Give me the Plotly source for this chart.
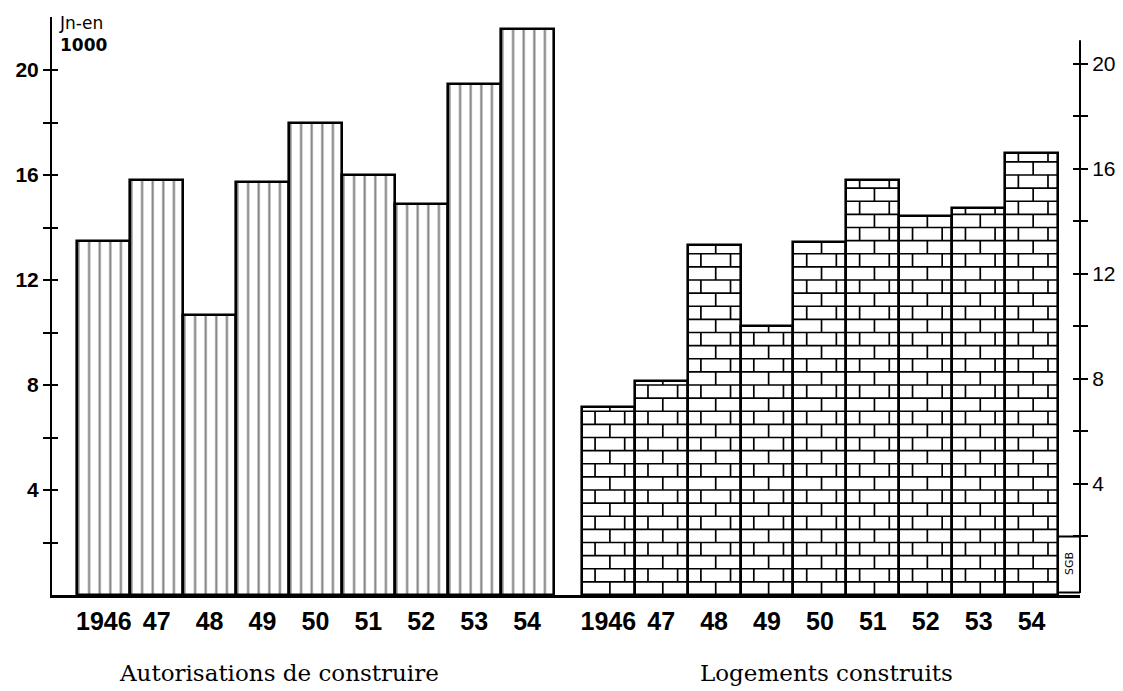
import plotly.graph_objects as go

# ---------------- data ----------------
years_labels = ["1946", "47", "48", "49", "50", "51", "52", "53", "54"]
autorisations = [13.5, 15.8, 10.65, 15.75, 18.0, 16.0, 14.9, 19.45, 21.55]
logements = [7.15, 8.15, 13.35, 10.25, 13.45, 15.8, 14.45, 14.75, 16.85]
y_tick_vals = [2, 4, 6, 8, 10, 12, 14, 16, 18, 20]
y_tick_text = ["", "4", "", "8", "", "12", "", "16", "", "20"]
title_left = "Autorisations de construire"
title_right = "Logements construits"
unit_label = "Jn-en<br><b>1000</b>"
sign_label = "SGB"

# ---------------- geometry helpers ----------------
n = len(years_labels)
group_offset = 9.535
pos_left = [i for i in range(n)]
pos_right = [i + group_offset for i in range(n)]
x_range = [-0.979, 18.45]
y_range = [0, 22.02]
y2_shift = 0.23
y2_range = [y_range[0] - y2_shift, y_range[1] - y2_shift]

# page body has an 8px margin: figure is laid out in page coords minus 8
OFF = 8
W, H = 1123 - OFF, 691 - OFF
ML = 52 - OFF
MT = 17 - OFF
MR = W - (1080 - OFF)
MB = H - (595 - OFF)
plot_w = W - ML - MR
plot_h = H - MT - MB

fig = go.Figure()

# left bars with vertical hatching
fig.add_trace(go.Bar(
    x=pos_left, y=autorisations, width=1.0,
    marker=dict(color="white",
                line=dict(color="black", width=2.6),
                pattern=dict(shape="|", fgcolor="black", bgcolor="white",
                             size=10.6, solidity=0.2)),
    showlegend=False, hoverinfo="skip"))

# right bars (white, brick pattern drawn on top)
fig.add_trace(go.Bar(
    x=pos_right, y=logements, width=1.0,
    marker=dict(color="white", line=dict(color="black", width=2.6)),
    showlegend=False, hoverinfo="skip"))

# brick pattern derived from the data values
row_h = 0.5
bx, by = [], []
for p, v in zip(pos_right, logements):
    xl, xr = p - 0.5, p + 0.5
    k = 1
    while row_h * k < v - 0.05:
        bx += [xl, xr, None]
        by += [row_h * k, row_h * k, None]
        k += 1
    k = 0
    while row_h * k < v:
        y0 = row_h * k
        y1 = min(row_h * (k + 1), v)
        fracs = [0.53] if k % 2 == 0 else [0.25, 0.81]
        for f in fracs:
            bx += [xl + f, xl + f, None]
            by += [y0, y1, None]
        k += 1
fig.add_trace(go.Scatter(x=bx, y=by, mode="lines",
                         line=dict(color="black", width=1.7),
                         showlegend=False, hoverinfo="skip"))

# invisible helpers so the extra axes are drawn
for ax in ["y2", "y3", "y4"]:
    fig.add_trace(go.Scatter(x=[0], y=[1], yaxis=ax, mode="markers",
                             marker=dict(opacity=0), showlegend=False,
                             hoverinfo="skip"))

tick_font = dict(family="Liberation Sans", size=21, color="black", weight="bold")

fig.update_layout(
    width=W, height=H,
    margin=dict(l=ML, r=MR, t=MT, b=MB, autoexpand=False),
    paper_bgcolor="white", plot_bgcolor="white",
    bargap=0,
    xaxis=dict(range=x_range, showgrid=False, zeroline=False,
               showline=True, linecolor="black", linewidth=2.6,
               tickvals=pos_left + pos_right, ticktext=years_labels + years_labels,
               ticks="", ticklabelstandoff=2,
               tickfont=dict(family="Liberation Sans", size=25, color="black", weight="bold")),
    yaxis=dict(range=y_range, showgrid=False, zeroline=False,
               showline=True, linecolor="black", linewidth=2,
               tickvals=y_tick_vals, ticktext=y_tick_text,
               ticks="outside", ticklen=7, tickwidth=2, tickcolor="black",
               tickfont=tick_font),
    yaxis3=dict(range=y_range, overlaying="y", side="left", showgrid=False,
                zeroline=False, showline=False, tickvals=y_tick_vals,
                ticks="inside", ticklen=6, tickwidth=2, tickcolor="black",
                showticklabels=False),
    yaxis2=dict(range=y2_range, overlaying="y", side="right", showgrid=False,
                zeroline=False, showline=False, tickvals=y_tick_vals,
                ticktext=y_tick_text, ticks="outside", ticklen=7, tickwidth=2,
                tickcolor="black", tickfont=dict(family="Liberation Sans", size=21, color="black")),
    yaxis4=dict(range=y2_range, overlaying="y", side="right", showgrid=False,
                zeroline=False, showline=False, tickvals=y_tick_vals,
                ticks="inside", ticklen=7, tickwidth=2, tickcolor="black",
                showticklabels=False),
)

# right axis line (shorter than the plot area)
fig.add_shape(type="line", xref="paper", yref="y2", x0=1, x1=1,
              y0=y2_range[0] + 0.08, y1=20.9, line=dict(color="black", width=2))

# signature box
fig.add_shape(type="rect", xref="x", yref="y2",
              x0=pos_right[-1] + 0.5, x1=x_range[1], y0=y2_range[0] + 0.1, y1=2,
              line=dict(color="black", width=2), fillcolor="rgba(0,0,0,0)")
fig.add_annotation(xref="x", yref="y2", x=(pos_right[-1] + 0.5 + x_range[1]) / 2,
                   y=0.95, text=sign_label, textangle=-90, showarrow=False,
                   font=dict(family="DejaVu Sans", size=11, color="black"))

# unit label
fig.add_annotation(xref="paper", yref="paper", x=(57 - 52) / plot_w, y=1.01,
                   xanchor="left", yanchor="top", text=unit_label, showarrow=False,
                   align="left",
                   font=dict(family="DejaVu Sans", size=17, color="black"))

# group titles (page pixel positions converted to paper fractions)
title_y = (595 - 673) / plot_h
fig.add_annotation(xref="paper", yref="paper", x=(279 - 52) / plot_w, y=title_y,
                   text=title_left, showarrow=False, xanchor="center", yanchor="middle",
                   font=dict(family="DejaVu Serif", size=23, color="black"))
fig.add_annotation(xref="paper", yref="paper", x=(826 - 52) / plot_w, y=title_y,
                   text=title_right, showarrow=False, xanchor="center", yanchor="middle",
                   font=dict(family="DejaVu Serif", size=23, color="black"))

fig.write_html("out.html")
